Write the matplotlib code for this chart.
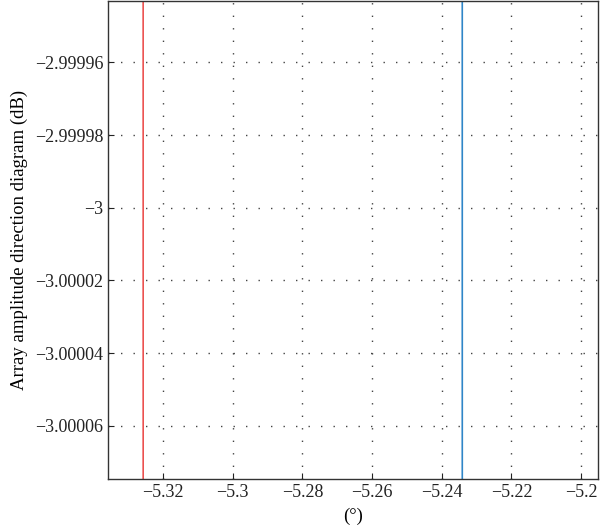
### Zoomed view of the -3 dB crossing of two array direction diagrams ###
import matplotlib
matplotlib.use('Agg')
import matplotlib.pyplot as plt
import matplotlib.ticker as ticker

##### data #####
# red curve (left crossing)
angle_red = [-5.32572, -5.32571]
amp_red = [-2.99990, -3.00010]
# blue curve (right crossing)
angle_blue = [-5.23412, -5.23411]
amp_blue = [-2.99990, -3.00010]

x_ticks = [-5.32, -5.30, -5.28, -5.26, -5.24, -5.22, -5.20]
y_ticks = [-2.99996, -2.99998, -3.0, -3.00002, -3.00004, -3.00006]

##### plot #####
plt.rcParams['font.family'] = ['Liberation Serif', 'DejaVu Serif']
fig = plt.figure(figsize=(6.0, 5.31), dpi=100)
ax = fig.add_axes([0.18, 0.098, 0.817, 0.901])

ax.plot(angle_red, amp_red, color='#e8312f', lw=1.0)
ax.plot(angle_blue, amp_blue, color='#2f86c8', lw=1.2)

ax.set_xlim(-5.3358, -5.1951)
ax.set_ylim(-3.0000746, -2.999943)
ax.set_xticks(x_ticks)
ax.set_yticks(y_ticks)
fmt = lambda v, p: ('%g' % round(v, 6)).replace('-', '\u2212')
ax.xaxis.set_major_formatter(ticker.FuncFormatter(fmt))
ax.yaxis.set_major_formatter(ticker.FuncFormatter(fmt))

ax.grid(True, linestyle=(0, (1, 8)), color='#444444', lw=1.0)
ax.tick_params(axis='both', direction='in', length=4, labelsize=13, colors='#222222', top=False, right=False)
for s in ax.spines.values():
    s.set_color('#333333')
    s.set_linewidth(1.0)

ax.set_xlabel('(°)', fontsize=13.5, labelpad=5)
ax.set_ylabel('Array amplitude direction diagram (dB)', fontsize=13.5, labelpad=5)

fig.savefig('out.png', dpi=100)
